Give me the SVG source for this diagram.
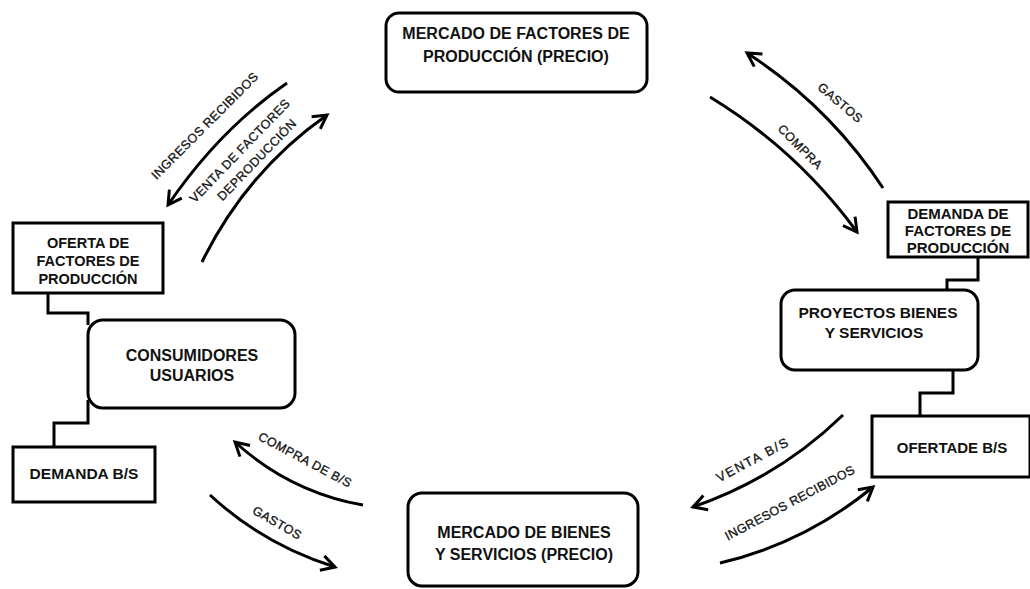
<svg xmlns="http://www.w3.org/2000/svg" width="1030" height="589" viewBox="0 0 1030 589">
<style>
.box{fill:#fff;stroke:#000;stroke-width:3}
.t{font-family:"Liberation Sans",Arial,sans-serif;font-weight:bold;font-size:15.5px;text-anchor:middle;fill:#111}
.l{font-family:"Liberation Sans",Arial,sans-serif;font-size:12.5px;letter-spacing:0.4px;text-anchor:middle;fill:#111;stroke:#111;stroke-width:0.3}
.arc{fill:none;stroke:#000;stroke-width:3;marker-end:url(#ah)}
.wire{fill:none;stroke:#000;stroke-width:3}
</style>
<defs>
<marker id="ah" viewBox="0 0 12 12" refX="10" refY="6" markerWidth="6" markerHeight="6" orient="auto" markerUnits="strokeWidth">
<path d="M1,1 L10,6 L1,11" fill="none" stroke="#000" stroke-width="2"/>
</marker>
</defs>
<rect width="1030" height="589" fill="#fff"/>
<g id="connectors">
<path class="wire" d="M48,293 V313 H88 V325"/>
<path class="wire" d="M88,400 V423 H54 V447"/>
<path class="wire" d="M978,257 V280 H947 V290"/>
<path class="wire" d="M953,370 V393 H920 V416"/>
<path class="arc" d="M287,83 Q219,130 168,205"/>
<path class="arc" d="M202,262 Q246,172 327,115"/>
<path class="arc" d="M883,188 Q829,106 747,53"/>
<path class="arc" d="M710,97 Q797,150 857,232"/>
<path class="arc" d="M363,505 Q290,492 235,442"/>
<path class="arc" d="M210,495 Q264,545 335,567"/>
<path class="arc" d="M843,415 Q778,478 693,507"/>
<path class="arc" d="M720,563 Q805,543 873,487"/>
<text class="l" transform="translate(205,126) rotate(-45)" y="4">INGRESOS RECIBIDOS</text>
<text class="l" transform="translate(240,151) rotate(-46)" y="4">VENTA DE FACTORES</text>
<text class="l" transform="translate(257,160) rotate(-46)" y="4">DEPRODUCCIÓN</text>
<text class="l" transform="translate(840,103) rotate(40)" y="4">GASTOS</text>
<text class="l" transform="translate(800,147) rotate(45)" y="4">COMPRA</text>
<text class="l" transform="translate(305,460) rotate(28)" y="4">COMPRA DE B/S</text>
<text class="l" transform="translate(277,523) rotate(30)" y="4">GASTOS</text>
<text class="l" transform="translate(753,460) rotate(-28)" y="4" style="letter-spacing:1.6px;font-size:13px">VENTA B/S</text>
<text class="l" transform="translate(790,503) rotate(-28)" y="4">INGRESOS RECIBIDOS</text>
</g>
<g id="mercado-factores">
<rect class="box" x="386" y="13" width="261" height="79" rx="13"/>
<text class="t" x="516" y="39" style="font-size:16px">MERCADO DE FACTORES DE</text>
<text class="t" x="516" y="62" style="font-size:16px">PRODUCCIÓN (PRECIO)</text>
</g>
<g id="oferta-factores">
<rect class="box" x="13" y="223" width="150" height="70"/>
<text class="t" x="88" y="248" style="font-size:14.5px">OFERTA DE</text>
<text class="t" x="88" y="266" style="font-size:14.5px">FACTORES DE</text>
<text class="t" x="88" y="284" style="font-size:14.5px">PRODUCCIÓN</text>
</g>
<g id="consumidores">
<rect class="box" x="88" y="320" width="207" height="88" rx="15"/>
<text class="t" x="192" y="361" style="font-size:16px">CONSUMIDORES</text>
<text class="t" x="192" y="381" style="font-size:16px">USUARIOS</text>
</g>
<g id="demanda-bs">
<rect class="box" x="13" y="447" width="142" height="55"/>
<text class="t" x="84" y="479">DEMANDA B/S</text>
</g>
<g id="demanda-factores">
<rect class="box" x="888" y="202" width="140" height="55"/>
<text class="t" x="958" y="219" style="font-size:15px">DEMANDA DE</text>
<text class="t" x="958" y="236" style="font-size:15px">FACTORES DE</text>
<text class="t" x="958" y="253" style="font-size:15px">PRODUCCIÓN</text>
</g>
<g id="proyectos">
<rect class="box" x="781" y="290" width="197" height="80" rx="14"/>
<text class="t" x="878" y="318">PROYECTOS BIENES</text>
<text class="t" x="874" y="338">Y  SERVICIOS</text>
</g>
<g id="oferta-bs">
<rect class="box" x="872" y="416" width="158" height="61"/>
<text class="t" x="952" y="453" style="font-size:15px">OFERTADE B/S</text>
</g>
<g id="mercado-bienes">
<rect class="box" x="408" y="493" width="230" height="93" rx="14"/>
<text class="t" x="524" y="538" style="font-size:16px">MERCADO DE BIENES</text>
<text class="t" x="524" y="560" style="font-size:16px">Y SERVICIOS  (PRECIO)</text>
</g>
</svg>
